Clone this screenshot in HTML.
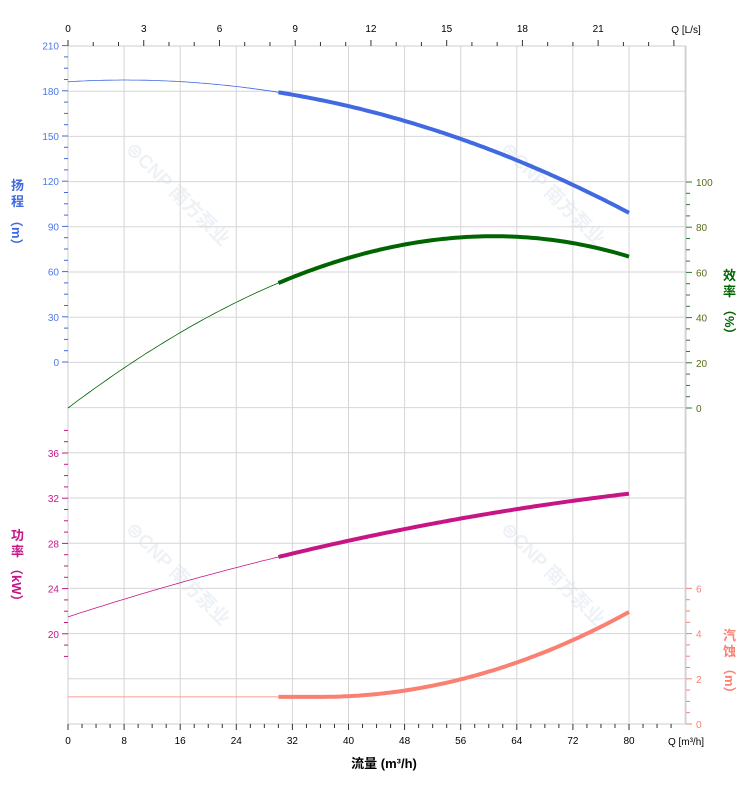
<!DOCTYPE html>
<html><head><meta charset="utf-8"><style>
body{margin:0;background:#fff;width:752px;height:797px;overflow:hidden}
svg{font-family:"Liberation Sans","Noto Sans CJK SC",sans-serif}
</style></head><body>
<svg id="s" width="752" height="797" xmlns="http://www.w3.org/2000/svg">
<g id="wm" fill="#eef2f7" font-size="19" font-weight="bold">
<text transform="translate(125,150) rotate(45)">⊜CNP 南方泵业</text>
<text transform="translate(500,150) rotate(45)">⊜CNP 南方泵业</text>
<text transform="translate(125,530) rotate(45)">⊜CNP 南方泵业</text>
<text transform="translate(500,530) rotate(45)">⊜CNP 南方泵业</text>
</g>
<g id="g"></g>
<text x="384" y="768" font-size="13" font-weight="bold" text-anchor="middle" fill="#000">流量 (m³/h)</text>
<text x="686" y="745" font-size="10" fill="#000" text-anchor="middle">Q [m³/h]</text>
<text x="686" y="33" font-size="10" fill="#000" text-anchor="middle">Q [L/s]</text>
<g font-size="13" font-weight="bold">
<text x="11" y="190" fill="#4169E1">扬</text><text x="11" y="206" fill="#4169E1">程</text>
<text transform="translate(12,214) rotate(90)" fill="#4169E1">（m）</text>
<text x="11" y="540" fill="#C71585">功</text><text x="11" y="556" fill="#C71585">率</text>
<text transform="translate(12,562) rotate(90)" fill="#C71585">（kW）</text>
<text x="723" y="280" fill="#006400">效</text><text x="723" y="296" fill="#006400">率</text>
<text transform="translate(725,303) rotate(90)" fill="#006400">（%）</text>
<text x="723" y="640" fill="#FA8072">汽</text><text x="723" y="656" fill="#FA8072">蚀</text>
<text transform="translate(725,662) rotate(90)" fill="#FA8072">（m）</text>
</g>
</svg>
<script>
var g=document.getElementById('g'),h='';
var L=68,R=686,T=46,B=724,k=7.0125;
function X(q){return L+q*k}
for(var i=1;i<=11;i++){var x=L+i*56.1;h+='<line x1="'+x+'" y1="'+T+'" x2="'+x+'" y2="'+B+'" stroke="#d6d6d6"/>';}
for(var i=0;i<=15;i++){var y=T+i*45.2;h+='<line x1="'+L+'" y1="'+y+'" x2="'+R+'" y2="'+y+'" stroke="#d6d6d6"/>';}
h+='<line x1="'+L+'" y1="'+T+'" x2="'+L+'" y2="'+B+'" stroke="#ccc"/><line x1="'+R+'" y1="'+T+'" x2="'+R+'" y2="'+B+'" stroke="#ccc"/>';
h+='<line x1="'+L+'" y1="'+T+'" x2="'+R+'" y2="'+T+'" stroke="#ccc"/><line x1="'+L+'" y1="'+B+'" x2="'+R+'" y2="'+B+'" stroke="#ccc"/>';
for(var q=0;q<=86;q+=2){var x=X(q),M=q%8==0;h+='<line x1="'+x+'" y1="'+B+'" x2="'+x+'" y2="'+(B+(M?6:4))+'" stroke="#333"/>';if(M&&q<=80)h+='<text x="'+x+'" y="'+(B+20)+'" font-size="10" text-anchor="middle">'+q+'</text>';}
for(var l=0;l<=24;l++){var x=L+l*25.245;if(x>R)break;var M=l%3==0;h+='<line x1="'+x+'" y1="'+T+'" x2="'+x+'" y2="'+(T-(M?6:4))+'" stroke="#333"/>';if(M&&l<=21)h+='<text x="'+x+'" y="'+(T-14)+'" font-size="10" text-anchor="middle">'+l+'</text>';}
for(var v=0;v<=210;v+=7.5){var y=362-v*1.5067,M=v%30==0;h+='<line x1="'+L+'" y1="'+y+'" x2="'+(L-(M?6:4))+'" y2="'+y+'" stroke="#4169E1"/>';if(M)h+='<text x="'+(L-9)+'" y="'+(y+4)+'" font-size="10" fill="#4a7ae8" text-anchor="end">'+v+'</text>';}
for(var p=18;p<=38;p+=1){var y=453+(36-p)*11.3;if(y<420||y>B)continue;var M=p%4==0;h+='<line x1="'+L+'" y1="'+y+'" x2="'+(L-(M?6:4))+'" y2="'+y+'" stroke="#C71585"/>';if(M&&p<=36)h+='<text x="'+(L-9)+'" y="'+(y+4)+'" font-size="10" fill="#C71585" text-anchor="end">'+p+'</text>';}
for(var e=0;e<=100;e+=5){var y=408-e*2.26;var M=e%20==0;h+='<line x1="'+R+'" y1="'+y+'" x2="'+(R+(M?6:4))+'" y2="'+y+'" stroke="#2e7d32"/>';if(M)h+='<text x="'+(R+10)+'" y="'+(y+4)+'" font-size="10" fill="#5a6b1a">'+e+'</text>';}
for(var n=0;n<=6;n+=0.5){var y=724-n*22.6;var M=n%2==0;h+='<line x1="'+R+'" y1="'+y+'" x2="'+(R+(M?6:4))+'" y2="'+y+'" stroke="#FA8072"/>';if(M)h+='<text x="'+(R+10)+'" y="'+(y+4)+'" font-size="10" fill="#FA8072">'+n+'</text>';}
function lag(P){return function(q){var s=0;for(var i=0;i<P.length;i++){var t=P[i][1];for(var j=0;j<P.length;j++)if(j!=i)t*=(q-P[j][0])/(P[i][0]-P[j][0]);s+=t;}return s;}}
function curve(f,c){var a='',b='';for(var q=0;q<=80.01;q+=0.5){var pt=X(q).toFixed(1)+','+f(q).toFixed(1)+' ';if(q<=30)a+=pt;if(q>=29.9)b+=pt;}
h+='<polyline points="'+a+'" fill="none" stroke="'+c+'" stroke-width="0.8"/><polyline points="'+b+'" fill="none" stroke="'+c+'" stroke-width="4"/>';}
curve(function(q){return 362-(186+0.279*q-0.01708*q*q)*1.5067},'#4169E1');
var E=lag([[0,0],[30,55.3],[60,76],[80,67]]);curve(function(q){return 408-E(q)*2.26},'#006400');
var P=lag([[0,21.5],[30,26.8],[56,30.2],[80,32.4]]);curve(function(q){return 453+(36-P(q))*11.3},'#C71585');
curve(function(q){var n=1.2+(q>36?0.00194*(q-36)*(q-36):0);return 724-n*22.6},'#FA8072');
g.innerHTML=h;
</script>
</body></html>
